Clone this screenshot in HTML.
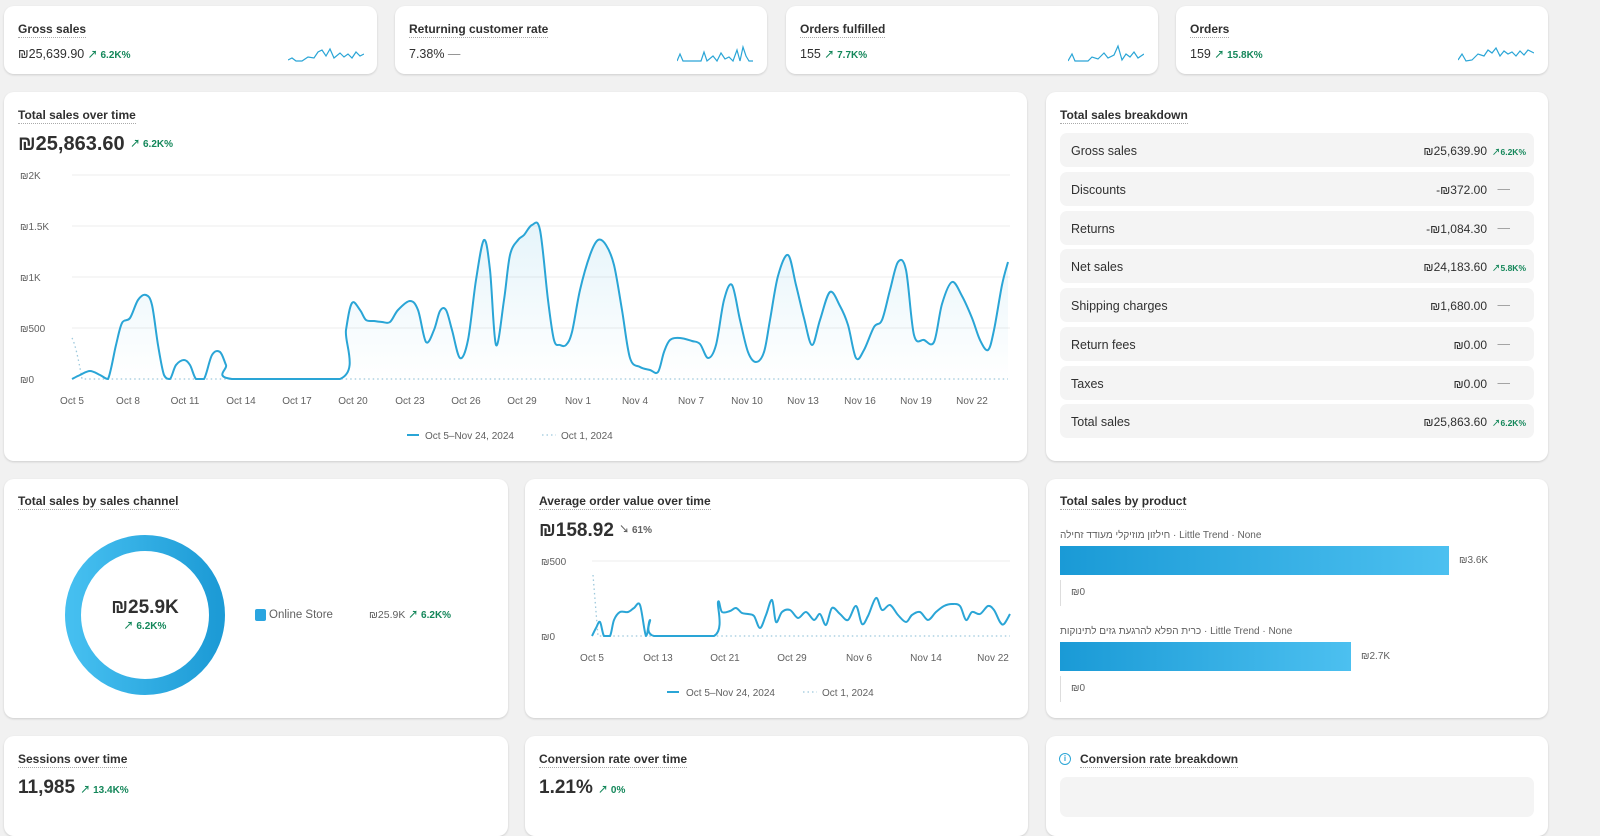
<!DOCTYPE html>
<html><head><meta charset="utf-8"><style>
*{margin:0;padding:0;box-sizing:border-box}
body{width:1600px;height:803px;background:#f1f1f1;font-family:"Liberation Sans","Noto Sans CJK JP",sans-serif;color:#303030;position:relative;overflow:hidden}
.c{position:absolute;background:#fff;border-radius:10px;box-shadow:0 1px 2px rgba(0,0,0,.15)}
.t{position:absolute;font-size:12px;font-weight:bold;color:#303030;border-bottom:1px dotted #aaa;line-height:15px;white-space:nowrap}
.a{position:absolute;white-space:nowrap;line-height:1}
.g{color:#14875a;font-weight:bold;font-size:10px}
.s{font-size:10px;color:#616161}
.row{position:absolute;left:14px;width:474px;height:34px;background:#f4f4f4;border-radius:7px;font-size:12.5px}
.row .l{position:absolute;left:11px;top:11px}
.row .v{position:absolute;right:47px;top:11px;font-size:12px}
.row .p{position:absolute;right:8px;top:13px;font-size:8.5px;color:#14875a;font-weight:bold}
.row .d{position:absolute;right:24px;top:10px;color:#999}
</style></head><body>

<div class="c" style="left:4px;top:6px;width:373px;height:68px">
<div class="t" style="left:14px;top:16px">Gross sales</div>
<div class="a" style="left:14px;top:42px;font-size:12.5px">₪25,639.90 <span class="g">↗ 6.2K%</span></div>
<svg style="position:absolute;left:284px;top:38px" width="76" height="20"><polyline fill="none" stroke="#2aa5d6" stroke-width="1.2" points="0,16 4,14 8,17 14,17 20,13 26,14 30,8 34,6 38,12 42,5 46,14 52,9 56,13 60,10 64,14 68,8 72,12 76,10"/></svg></div>

<div class="c" style="left:395px;top:6px;width:372px;height:68px">
<div class="t" style="left:14px;top:16px">Returning customer rate</div>
<div class="a" style="left:14px;top:42px;font-size:12.5px">7.38% <span style="color:#888">—</span></div>
<svg style="position:absolute;left:282px;top:38px" width="76" height="20"><polyline fill="none" stroke="#2aa5d6" stroke-width="1.2" points="0,17 3,10 6,17 24,17 27,8 30,17 36,12 40,17 44,9 48,15 52,13 56,17 60,6 63,17 66,3 69,12 72,17 76,17"/></svg></div>

<div class="c" style="left:786px;top:6px;width:372px;height:68px">
<div class="t" style="left:14px;top:16px">Orders fulfilled</div>
<div class="a" style="left:14px;top:42px;font-size:12.5px">155 <span class="g">↗ 7.7K%</span></div>
<svg style="position:absolute;left:282px;top:38px" width="76" height="20"><polyline fill="none" stroke="#2aa5d6" stroke-width="1.2" points="0,17 4,10 7,17 20,17 24,13 30,15 36,9 40,14 46,11 50,2 54,16 58,10 62,13 66,8 70,14 76,10"/></svg></div>

<div class="c" style="left:1176px;top:6px;width:372px;height:68px">
<div class="t" style="left:14px;top:16px">Orders</div>
<div class="a" style="left:14px;top:42px;font-size:12.5px">159 <span class="g">↗ 15.8K%</span></div>
<svg style="position:absolute;left:282px;top:38px" width="76" height="20"><polyline fill="none" stroke="#2aa5d6" stroke-width="1.2" points="0,16 4,10 8,17 14,16 20,10 26,12 30,6 34,9 38,4 42,12 46,7 50,10 54,8 58,12 62,7 66,11 70,6 76,9"/></svg></div>

<!-- Total sales over time -->
<div class="c" style="left:4px;top:92px;width:1023px;height:369px"></div>
<div class="t" style="left:18px;top:108px">Total sales over time</div>
<div class="a" style="left:18px;top:134px;font-size:20px;font-weight:bold">₪25,863.60 <span class="g" style="vertical-align:3px">↗ 6.2K%</span></div>
<svg style="position:absolute;left:0;top:0" width="1040" height="470">
<g stroke="#ececec" stroke-width="1"><line x1="72" x2="1010" y1="175" y2="175"/><line x1="72" x2="1010" y1="226" y2="226"/><line x1="72" x2="1010" y1="277" y2="277"/><line x1="72" x2="1010" y1="328" y2="328"/></g>
<g font-size="10" fill="#616161" font-family="Liberation Sans"><text x="20" y="179">₪2K</text><text x="20" y="230">₪1.5K</text><text x="20" y="281">₪1K</text><text x="20" y="332">₪500</text><text x="20" y="383">₪0</text></g>
<g font-size="10" fill="#616161" font-family="Liberation Sans" text-anchor="middle">
<text x="72" y="404">Oct 5</text><text x="128" y="404">Oct 8</text><text x="185" y="404">Oct 11</text><text x="241" y="404">Oct 14</text><text x="297" y="404">Oct 17</text><text x="353" y="404">Oct 20</text><text x="410" y="404">Oct 23</text><text x="466" y="404">Oct 26</text><text x="522" y="404">Oct 29</text><text x="578" y="404">Nov 1</text><text x="635" y="404">Nov 4</text><text x="691" y="404">Nov 7</text><text x="747" y="404">Nov 10</text><text x="803" y="404">Nov 13</text><text x="860" y="404">Nov 16</text><text x="916" y="404">Nov 19</text><text x="972" y="404">Nov 22</text></g>
<defs><linearGradient id="fa" x1="0" y1="0" x2="0" y2="1"><stop offset="0" stop-color="#2aa5d6" stop-opacity=".12"/><stop offset="1" stop-color="#2aa5d6" stop-opacity="0"/></linearGradient></defs>
<path d="M72,338 Q76,345 82,379 L1008,379" fill="none" stroke="#9cc8dc" stroke-width="1.3" stroke-dasharray="1.5,3"/>
<polyline class="sm" data-fill="1" data-base="379" fill="url(#fa)" stroke="#2aa5d6" stroke-width="2" stroke-linejoin="round" points="72,379 80,375 90,371 100,375 108,379 116,345 122,323 130,318 138,300 146,295 152,305 158,345 164,375 170,379 176,365 184,360 190,365 196,379 204,379 212,355 220,352 226,365 232,379 340,379 346,330 352,303 360,310 366,320 374,321 382,322 390,322 398,310 410,301 418,310 426,342 434,330 440,311 446,310 452,330 460,358 468,340 476,280 484,240 490,270 496,345 504,300 510,255 518,240 524,235 532,225 540,230 548,300 554,340 560,345 566,345 572,332 580,290 590,255 598,240 606,245 614,265 622,310 630,358 640,367 650,370 658,372 664,352 670,340 680,338 692,341 700,344 708,358 716,345 724,300 732,285 740,320 748,352 756,362 764,352 770,320 778,276 788,255 796,285 804,318 812,345 820,320 830,292 840,306 848,325 856,358 864,350 874,327 882,320 890,290 898,262 906,270 914,335 924,340 934,342 942,304 952,282 962,296 972,318 980,340 988,350 994,330 1002,285 1008,262"/>
<line x1="407" x2="419" y1="435" y2="435" stroke="#2aa5d6" stroke-width="2"/><text x="425" y="439" font-size="10" fill="#616161" font-family="Liberation Sans">Oct 5–Nov 24, 2024</text>
<line x1="542" x2="556" y1="435" y2="435" stroke="#9cc8dc" stroke-width="1.3" stroke-dasharray="1.5,3"/><text x="561" y="439" font-size="10" fill="#616161" font-family="Liberation Sans">Oct 1, 2024</text>
</svg>

<!-- breakdown -->
<div class="c" style="left:1046px;top:92px;width:502px;height:369px">
<div class="t" style="left:14px;top:16px">Total sales breakdown</div>
<div class="row" style="top:41px"><span class="l">Gross sales</span><span class="v">₪25,639.90</span><span class="p">↗6.2K%</span></div>
<div class="row" style="top:80px"><span class="l">Discounts</span><span class="v">-₪372.00</span><span class="d">—</span></div>
<div class="row" style="top:119px"><span class="l">Returns</span><span class="v">-₪1,084.30</span><span class="d">—</span></div>
<div class="row" style="top:157px"><span class="l">Net sales</span><span class="v">₪24,183.60</span><span class="p">↗5.8K%</span></div>
<div class="row" style="top:196px"><span class="l">Shipping charges</span><span class="v">₪1,680.00</span><span class="d">—</span></div>
<div class="row" style="top:235px"><span class="l">Return fees</span><span class="v">₪0.00</span><span class="d">—</span></div>
<div class="row" style="top:274px"><span class="l">Taxes</span><span class="v">₪0.00</span><span class="d">—</span></div>
<div class="row" style="top:312px"><span class="l">Total sales</span><span class="v">₪25,863.60</span><span class="p">↗6.2K%</span></div>
</div>

<!-- sales channel -->
<div class="c" style="left:4px;top:479px;width:504px;height:239px">
<div class="t" style="left:14px;top:15px">Total sales by sales channel</div></div>
<svg style="position:absolute;left:60px;top:530px" width="170" height="170"><defs><linearGradient id="dg" x1="0" x2="1" y1="0" y2="0"><stop offset="0" stop-color="#45bff0"/><stop offset="1" stop-color="#1d9bd6"/></linearGradient></defs><circle cx="85" cy="85" r="72" fill="none" stroke="url(#dg)" stroke-width="16"/></svg>
<div class="a" style="left:85px;top:598px;width:120px;text-align:center;font-size:19px;font-weight:bold">₪25.9K</div>
<div class="a g" style="left:85px;top:622px;width:120px;text-align:center">↗ 6.2K%</div>
<div style="position:absolute;left:255px;top:609px;width:11px;height:12px;background:#2aa5e0;border-radius:2px"></div>
<div class="a" style="left:269px;top:610px;font-size:11.5px;color:#616161">Online Store</div>
<div class="a" style="left:369px;top:610px;font-size:10.5px;color:#616161">₪25.9K <span class="g">↗ 6.2K%</span></div>

<!-- AOV -->
<div class="c" style="left:525px;top:479px;width:503px;height:239px">
<div class="t" style="left:14px;top:15px">Average order value over time</div>
<div class="a" style="left:14px;top:42px;font-size:19px;font-weight:bold">₪158.92 <span class="s" style="font-weight:bold;vertical-align:3px">↘ 61%</span></div></div>
<svg style="position:absolute;left:0;top:0" width="1040" height="720">
<line x1="592" x2="1010" y1="561" y2="561" stroke="#ececec"/>
<g font-size="10" fill="#616161" font-family="Liberation Sans"><text x="541" y="565">₪500</text><text x="541" y="640">₪0</text></g>
<g font-size="10" fill="#616161" font-family="Liberation Sans" text-anchor="middle"><text x="592" y="661">Oct 5</text><text x="658" y="661">Oct 13</text><text x="725" y="661">Oct 21</text><text x="792" y="661">Oct 29</text><text x="859" y="661">Nov 6</text><text x="926" y="661">Nov 14</text><text x="993" y="661">Nov 22</text></g>
<path d="M593,575 L598,636 L1010,636" fill="none" stroke="#9cc8dc" stroke-width="1.3" stroke-dasharray="1.5,3"/>
<polyline class="sm" data-base="636" fill="none" stroke="#2aa5d6" stroke-width="2" stroke-linejoin="round" points="592,636 596,628 600,622 604,636 610,636 614,620 620,612 628,612 634,608 640,605 646,636 650,620 654,636 714,636 718,602 722,612 730,611 736,608 742,613 748,614 754,616 760,628 766,615 772,600 776,622 782,612 790,610 798,618 806,612 814,620 820,614 826,625 832,608 840,614 848,620 856,606 862,624 868,616 876,598 882,610 890,605 898,615 906,622 912,615 920,612 928,620 936,612 944,606 952,604 960,606 966,620 972,612 980,614 988,606 994,610 1000,622 1004,624 1010,614"/>
<line x1="667" x2="679" y1="692" y2="692" stroke="#2aa5d6" stroke-width="2"/><text x="686" y="696" font-size="10" fill="#616161" font-family="Liberation Sans">Oct 5–Nov 24, 2024</text>
<line x1="803" x2="817" y1="692" y2="692" stroke="#9cc8dc" stroke-width="1.3" stroke-dasharray="1.5,3"/><text x="822" y="696" font-size="10" fill="#616161" font-family="Liberation Sans">Oct 1, 2024</text>
</svg>

<!-- products -->
<div class="c" style="left:1046px;top:479px;width:502px;height:239px">
<div class="t" style="left:14px;top:15px">Total sales by product</div></div>
<div class="a" style="left:1060px;top:531px;font-size:10px;color:#616161">חילזון מוזיקלי מעודד זחילה · Little Trend · None</div>
<div style="position:absolute;left:1060px;top:546px;width:389px;height:29px;background:linear-gradient(90deg,#1a9ad6,#4cc0f0)"></div>
<div class="a s" style="left:1459px;top:556px">₪3.6K</div>
<div style="position:absolute;left:1060px;top:580px;width:1px;height:26px;background:#ddd"></div>
<div class="a s" style="left:1071px;top:588px">₪0</div>
<div class="a" style="left:1060px;top:627px;font-size:10px;color:#616161">כרית הפלא להרגעת גזים לתינוקות · Little Trend · None</div>
<div style="position:absolute;left:1060px;top:642px;width:291px;height:29px;background:linear-gradient(90deg,#1a9ad6,#4cc0f0)"></div>
<div class="a s" style="left:1361px;top:652px">₪2.7K</div>
<div style="position:absolute;left:1060px;top:676px;width:1px;height:26px;background:#ddd"></div>
<div class="a s" style="left:1071px;top:684px">₪0</div>

<!-- row 4 -->
<div class="c" style="left:4px;top:736px;width:504px;height:100px">
<div class="t" style="left:14px;top:16px">Sessions over time</div>
<div class="a" style="left:14px;top:42px;font-size:19px;font-weight:bold">11,985 <span class="g">↗ 13.4K%</span></div></div>
<div class="c" style="left:525px;top:736px;width:503px;height:100px">
<div class="t" style="left:14px;top:16px">Conversion rate over time</div>
<div class="a" style="left:14px;top:42px;font-size:19px;font-weight:bold">1.21% <span class="g">↗ 0%</span></div></div>
<div class="c" style="left:1046px;top:736px;width:502px;height:100px">
<div class="a" style="left:13px;top:17px;width:12px;height:12px;border:1.5px solid #2aa5d6;border-radius:50%;font-size:8px;color:#2aa5d6;text-align:center;line-height:9px;font-weight:bold">i</div>
<div class="t" style="left:34px;top:16px">Conversion rate breakdown</div>
<div style="position:absolute;left:14px;top:41px;width:474px;height:40px;background:#f4f4f4;border-radius:7px"></div></div>
<script>
document.querySelectorAll('polyline.sm').forEach(function(pl){
 var base=+pl.getAttribute('data-base');
 var p=pl.getAttribute('points').trim().split(/\s+/).map(function(s){return s.split(',').map(Number)});
 var d='M'+p[0][0]+','+p[0][1];
 for(var i=0;i<p.length-1;i++){
  var p0=p[i-1]||p[i],p1=p[i],p2=p[i+1],p3=p[i+2]||p2,k=6;
  var c1x=p1[0]+(p2[0]-p0[0])/k,c1y=Math.min(base,p1[1]+(p2[1]-p0[1])/k),c2x=p2[0]-(p3[0]-p1[0])/k,c2y=Math.min(base,p2[1]-(p3[1]-p1[1])/k);
  if(p1[1]==base&&p2[1]==base){c1y=base;c2y=base;}
  d+=' C'+c1x+','+c1y+' '+c2x+','+c2y+' '+p2[0]+','+p2[1];
 }
 var ns='http://www.w3.org/2000/svg';
 if(pl.getAttribute('data-fill')){
  var f=document.createElementNS(ns,'path');
  f.setAttribute('d',d+' L'+p[p.length-1][0]+','+base+' L'+p[0][0]+','+base+' Z');
  f.setAttribute('fill','url(#fa)');pl.parentNode.insertBefore(f,pl);
 }
 var path=document.createElementNS(ns,'path');
 path.setAttribute('d',d);path.setAttribute('fill','none');path.setAttribute('stroke','#2aa5d6');path.setAttribute('stroke-width','2');
 pl.parentNode.replaceChild(path,pl);
});
</script>
</body></html>
